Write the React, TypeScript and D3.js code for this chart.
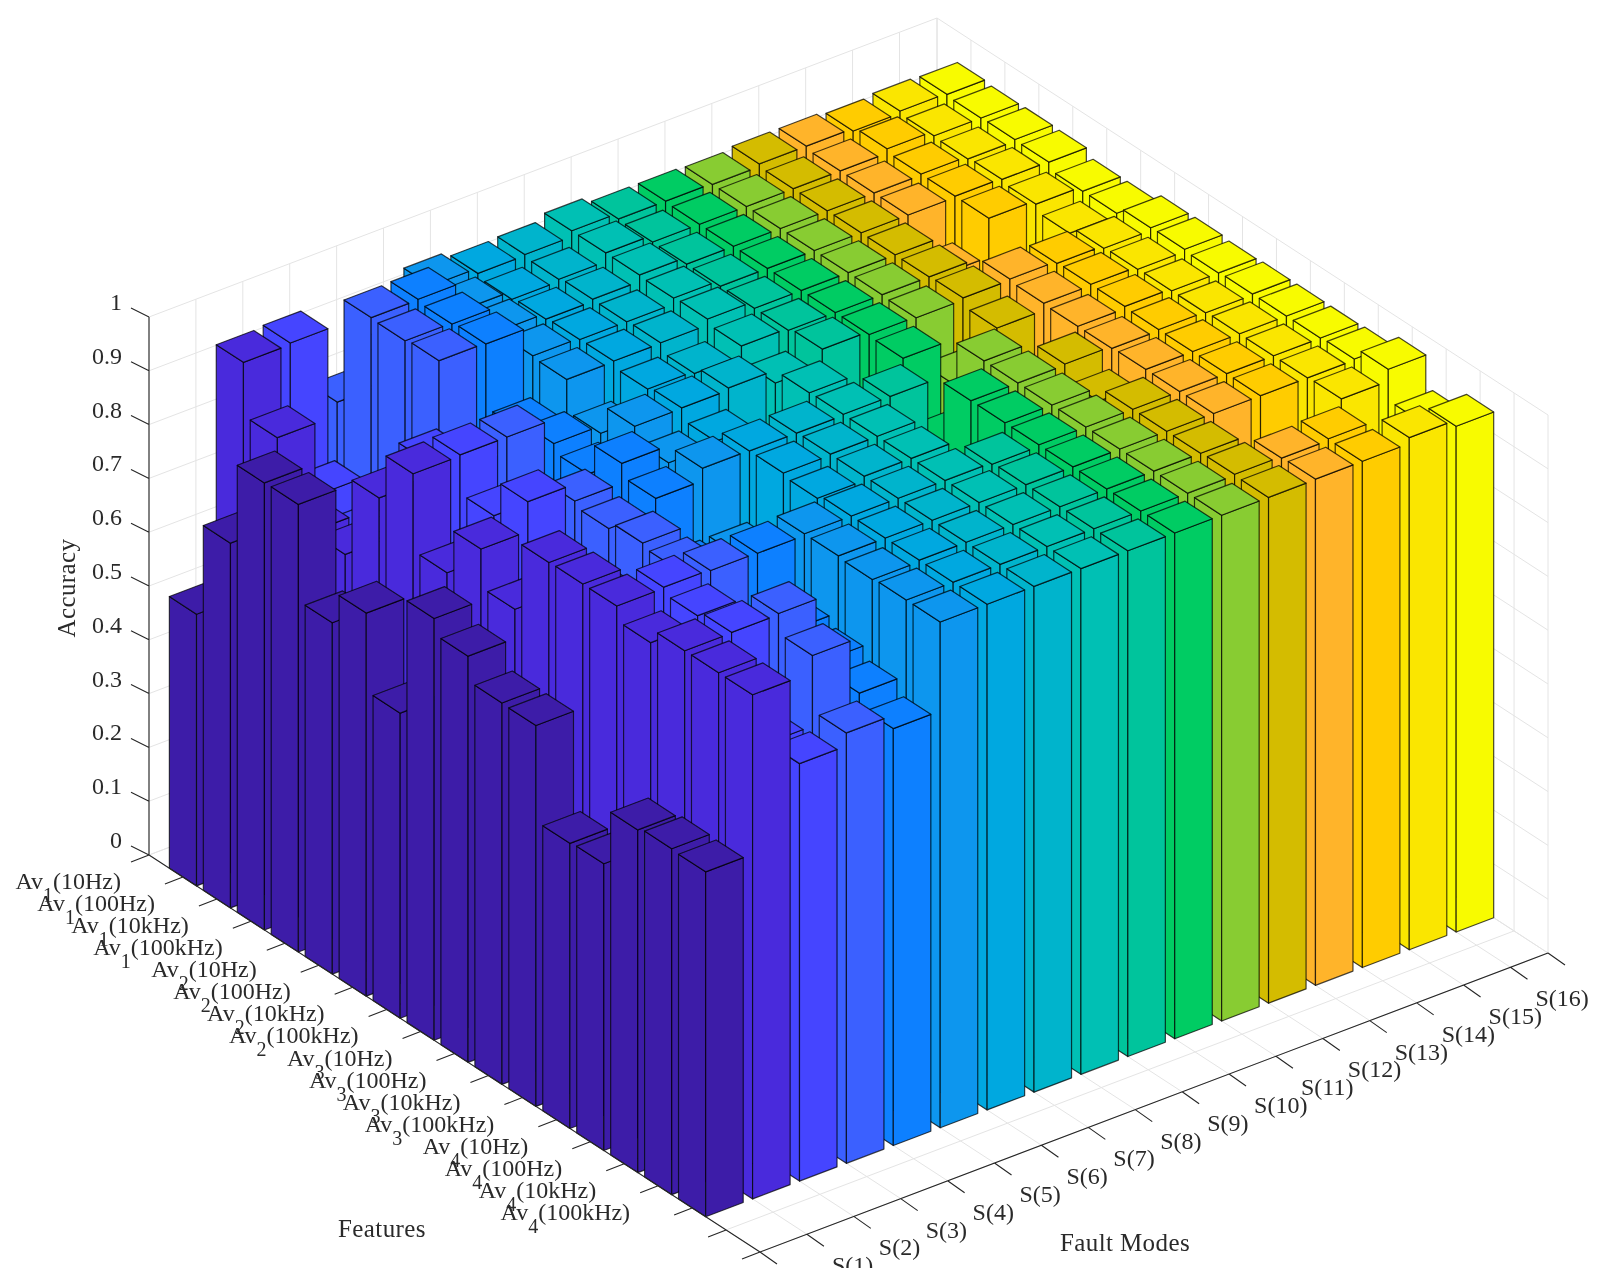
import React from "react"
import * as d3 from "d3"

// ── Data ───────────────────────────────────────────────────────────────────────

const featureIndex = [1, 1, 1, 1, 2, 2, 2, 2, 3, 3, 3, 3, 4, 4, 4, 4]
const featureFreq = ["(10Hz)", "(100Hz)", "(10kHz)", "(100kHz)", "(10Hz)", "(100Hz)", "(10kHz)", "(100kHz)", "(10Hz)", "(100Hz)", "(10kHz)", "(100kHz)", "(10Hz)", "(100Hz)", "(10kHz)", "(100kHz)"]
const faultLabels = ["S(1)", "S(2)", "S(3)", "S(4)", "S(5)", "S(6)", "S(7)", "S(8)", "S(9)", "S(10)", "S(11)", "S(12)", "S(13)", "S(14)", "S(15)", "S(16)"]
const zTicks = [0, 0.1, 0.2, 0.3, 0.4, 0.5, 0.6, 0.7, 0.8, 0.9, 1]

const columnColors = ["#3d1fa8", "#4a2cdc", "#4545ff", "#3a60ff", "#0a80ff", "#0a96ee", "#00a8e0", "#00b4cc", "#00c0b4", "#00c49c", "#00cc64", "#88cc30", "#d4bc00", "#ffb42a", "#ffcc00", "#fae600", "#f8fb00"]

// one array per bar column, front to back along the fault axis, one value per feature
const col01 = [0.505, 0.678, 0.831, 0.832, 0.653, 0.712, 0.567, 0.784, 0.755, 0.709, 0.708, 0.53, 0.533, 0.637, 0.643, 0.641]
const col02 = [0.94, 0.841, 0.707, 0.706, 0.852, 0.938, 0.795, 0.88, 0.809, 0.937, 0.938, 0.938, 0.911, 0.937, 0.937, 0.937]
const col03 = [0.943, 0.706, 0.667, 0.7, 0.888, 0.94, 0.868, 0.935, 0.83, 0.84, 0.85, 0.94, 0.928, 0.938, 0.772, 0.776]
const col04 = [0.8, 0.998, 0.996, 1.0, 0.7, 0.94, 0.8, 0.903, 0.893, 0.907, 0.9, 0.938, 0.8, 0.94, 0.903, 0.8]
const col05 = [0.85, 0.999, 0.994, 0.998, 0.88, 0.895, 0.879, 0.94, 0.916, 0.82, 0.8, 0.937, 0.835, 0.82, 0.8, 0.775]
const col06 = [0.95, 0.948, 0.948, 0.943, 0.94, 0.881, 0.935, 0.908, 0.939, 0.82, 0.75, 0.94, 0.94, 0.937, 0.94, 0.94]
const col07 = [0.94, 0.933, 0.937, 0.94, 0.941, 0.93, 0.936, 0.915, 0.938, 0.938, 0.932, 0.94, 0.94, 0.94, 0.94, 0.94]
const col08 = [0.942, 0.937, 0.941, 0.94, 0.942, 0.926, 0.94, 0.85, 0.938, 0.94, 0.94, 0.94, 0.94, 0.94, 0.94, 0.94]
const col09 = [0.953, 0.953, 0.953, 0.951, 0.953, 0.944, 0.916, 0.939, 0.94, 0.94, 0.94, 0.94, 0.94, 0.94, 0.94, 0.94]
const col10 = [0.942, 0.94, 0.94, 0.94, 0.94, 0.94, 0.946, 0.8, 0.94, 0.8, 0.85, 0.937, 0.94, 0.94, 0.94, 0.94]
const col11 = [0.942, 0.94, 0.94, 0.94, 0.94, 0.94, 0.94, 0.937, 0.82, 0.94, 0.94, 0.94, 0.94, 0.94, 0.94, 0.94]
const col12 = [0.94, 0.94, 0.94, 0.94, 0.94, 0.94, 0.938, 0.86, 0.94, 0.94, 0.94, 0.94, 0.94, 0.94, 0.94, 0.94]
const col13 = [0.945, 0.94, 0.94, 0.94, 0.94, 0.94, 0.942, 0.927, 0.8, 0.942, 0.914, 0.94, 0.94, 0.94, 0.942, 0.94]
const col14 = [0.945, 0.94, 0.94, 0.94, 0.87, 0.8, 0.944, 0.94, 0.938, 0.938, 0.94, 0.94, 0.94, 0.8, 0.939, 0.941]
const col15 = [0.94, 0.948, 0.942, 0.942, 0.942, 0.85, 0.94, 0.942, 0.942, 0.94, 0.94, 0.94, 0.94, 0.8, 0.942, 0.941]
const col16 = [0.944, 0.939, 0.937, 0.94, 0.935, 0.922, 0.935, 0.937, 0.938, 0.938, 0.94, 0.94, 0.94, 0.942, 0.85, 0.952]
const col17 = [0.942, 0.939, 0.94, 0.939, 0.926, 0.926, 0.94, 0.941, 0.938, 0.94, 0.94, 0.94, 0.942, 0.964, 0.906, 0.94]
const columns = [col01, col02, col03, col04, col05, col06, col07, col08, col09, col10, col11, col12, col13, col14, col15, col16, col17]

// ── Projection ─────────────────────────────────────────────────────────────────

const F_MAX = 18
const S_MAX = 16.8
const BAR_HALF = 0.4

const originX = 149
const originY = 855
const fX = d3.scaleLinear().domain([0, F_MAX]).range([0, 611])
const fY = d3.scaleLinear().domain([0, F_MAX]).range([0, 397])
const sX = d3.scaleLinear().domain([0, S_MAX]).range([0, 788])
const sY = d3.scaleLinear().domain([0, S_MAX]).range([0, -299])
const zY = d3.scaleLinear().domain([0, 1]).range([0, -538])

type Pt = [number, number]
const project = (f: number, s: number, z = 0): Pt => [
  originX + fX(f) + sX(s),
  originY + fY(f) + sY(s) + zY(z),
]
const poly = d3.line().curve(d3.curveLinearClosed)
const seg = (a: Pt, b: Pt) => `M${a[0]},${a[1]}L${b[0]},${b[1]}`

const GRID = "#e4e4e4"
const AXIS = "#262626"
const FONT = "'Liberation Serif', serif"
const TEXT = "#2a2a2a"

// ── Pieces ─────────────────────────────────────────────────────────────────────

function Grid() {
  const d: string[] = []
  const fLines = d3.range(0, F_MAX + 1)
  const sLines = [...d3.range(0, 17), S_MAX]
  for (const f of fLines) {
    d.push(seg(project(f, 0), project(f, S_MAX)))
    d.push(seg(project(f, S_MAX), project(f, S_MAX, 1)))
  }
  for (const s of sLines) {
    d.push(seg(project(0, s), project(F_MAX, s)))
    d.push(seg(project(0, s), project(0, s, 1)))
  }
  for (const z of zTicks) {
    d.push(seg(project(0, 0, z), project(0, S_MAX, z)))
    d.push(seg(project(0, S_MAX, z), project(F_MAX, S_MAX, z)))
  }
  return <path d={d.join("")} fill="none" stroke={GRID} strokeWidth={1} />
}

function Bars() {
  const bars: React.ReactElement[] = []
  // back to front: low feature first, high column first inside each feature
  for (let i = 1; i <= featureIndex.length; i++) {
    for (let j = columns.length; j >= 1; j--) {
      const v = columns[j - 1][i - 1]
      const f0 = i - BAR_HALF
      const f1 = i + BAR_HALF
      const s0 = j - 1
      const s1 = j - 1 + 2 * BAR_HALF
      const left = [project(f0, s0), project(f1, s0), project(f1, s0, v), project(f0, s0, v)]
      const right = [project(f1, s0), project(f1, s1), project(f1, s1, v), project(f1, s0, v)]
      const top = [project(f0, s0, v), project(f1, s0, v), project(f1, s1, v), project(f0, s1, v)]
      bars.push(
        <g key={`${i}-${j}`} fill={columnColors[j - 1]} stroke="#000" strokeOpacity={0.72} strokeWidth={1.2} strokeLinejoin="round">
          <path d={poly(left) as string} />
          <path d={poly(right) as string} />
          <path d={poly(top) as string} />
        </g>,
      )
    }
  }
  return <g>{bars}</g>
}

function Axes() {
  const d: string[] = [
    seg(project(0, 0), project(0, 0, 1)),
    seg(project(0, 0), project(F_MAX, 0)),
    seg(project(F_MAX, 0), project(F_MAX, S_MAX)),
  ]
  for (const z of zTicks) {
    const p = project(0, 0, z)
    d.push(seg(p, [p[0] - 18, p[1] - 9]))
  }
  for (const f of d3.range(0, F_MAX + 1)) {
    const p = project(f, 0)
    d.push(seg(p, [p[0] - 18, p[1] + 7]))
  }
  for (const s of [...d3.range(0, 17), S_MAX]) {
    const p = project(F_MAX, s)
    d.push(seg(p, [p[0] + 17, p[1] + 12]))
  }
  return <path d={d.join("")} fill="none" stroke={AXIS} strokeWidth={1.1} />
}

function Labels() {
  return (
    <g fontFamily={FONT} fontSize={24} fill={TEXT}>
      {zTicks.map(z => {
        const p = project(0, 0, z)
        return (
          <text key={z} x={122} y={p[1] - 7} textAnchor="end">
            {z}
          </text>
        )
      })}
      {featureIndex.map((n, k) => {
        const p = project(k + 1, 0)
        return (
          <text key={k} x={p[0] - 62} y={p[1] + 12} textAnchor="end">
            Av
            <tspan dy={13} fontSize={20}>{n}</tspan>
            <tspan dy={-13}>{featureFreq[k]}</tspan>
          </text>
        )
      })}
      {faultLabels.map((t, k) => {
        const p = project(F_MAX, k + 1)
        return (
          <text key={t} x={p[0] + 25} y={p[1] + 39}>
            {t}
          </text>
        )
      })}
      <text x={382} y={1237} fontSize={25} textAnchor="middle" letterSpacing={0.4}>Features</text>
      <text x={1125} y={1251} fontSize={25} textAnchor="middle" letterSpacing={0.4}>Fault Modes</text>
      <text transform="translate(75,588) rotate(-90)" fontSize={25} textAnchor="middle" letterSpacing={0.4}>Accuracy</text>
    </g>
  )
}

// ── Main component ─────────────────────────────────────────────────────────────

export default function App() {
  return (
    <svg width={1598} height={1286} style={{ position: "absolute", left: 0, top: 0, background: "#fff" }}>
      <defs>
        <filter id="soft" x="0" y="0" width="100%" height="100%">
          <feGaussianBlur stdDeviation={0.45} />
        </filter>
      </defs>
      <g filter="url(#soft)">
        <rect width={1598} height={1286} fill="#fff" />
        <Grid />
        <Bars />
        <Axes />
        <Labels />
        {/* the source image is cropped just under the S(1) label */}
        <rect x={0} y={1268} width={1598} height={18} fill="#fff" />
      </g>
    </svg>
  )
}
